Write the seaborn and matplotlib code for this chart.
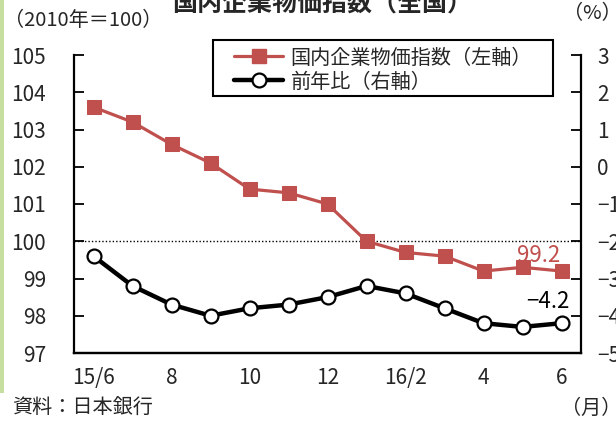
import matplotlib
matplotlib.use("Agg")
import matplotlib.pyplot as plt
import seaborn as sns
import pandas as pd
from matplotlib.lines import Line2D
from matplotlib.patches import Rectangle

months = ["15/6", "7", "8", "9", "10", "11", "12", "16/1", "2", "3", "4", "5", "6"]
index_vals = [103.6, 103.2, 102.6, 102.1, 101.4, 101.3, 101.0, 100.0, 99.7, 99.6, 99.2, 99.3, 99.2]
yoy_vals = [-2.4, -3.2, -3.7, -4.0, -3.8, -3.7, -3.5, -3.2, -3.4, -3.8, -4.2, -4.3, -4.2]
shown_xlabels = {0: "15/6", 2: "8", 4: "10", 6: "12", 8: "16/2", 10: "4", 12: "6"}
left_ticks = [97, 98, 99, 100, 101, 102, 103, 104, 105]
right_ticks = [-5, -4, -3, -2, -1, 0, 1, 2, 3]
series_names = ["国内企業物価指数（左軸）", "前年比（右軸）"]

sns.set_theme(style="white")
plt.rcParams["font.family"] = ["Noto Sans CJK JP", "DejaVu Sans"]

RED = "#c0504d"
FS = 14.5

df = pd.DataFrame({"pos": range(len(months)), "month": months,
                   "index": index_vals, "yoy": yoy_vals})

fig = plt.figure(figsize=(6.16, 4.24), dpi=100)
ax = fig.add_axes([74 / 616, 1 - 353 / 424, (581 - 74) / 616, (353 - 55) / 424])
ax2 = ax.twinx()

ax.axhline(100, color="black", lw=1.0, ls=(0, (1, 1.5)), zorder=1)

sns.lineplot(data=df, x="pos", y="index", ax=ax, color=RED, lw=2.3,
             marker="s", markersize=10.5, markeredgecolor=RED, markerfacecolor=RED,
             zorder=3)
sns.lineplot(data=df, x="pos", y="yoy", ax=ax2, color="black", lw=3.2,
             marker="o", markersize=10, markeredgecolor="black",
             markerfacecolor="white", markeredgewidth=1.6, zorder=3)

ax.set_xlim(-0.5, len(months) - 0.5)
ax.set_ylim(97, 105)
ax2.set_ylim(-5, 3)
ax.set_xlabel("")
ax.set_ylabel("")
ax2.set_ylabel("")

ax.set_yticks(left_ticks)
ax.set_yticklabels([str(t) for t in left_ticks], fontsize=15)
ax2.set_yticks(right_ticks)
ax2.set_yticklabels([str(t).replace("-", "\u2212") for t in right_ticks], fontsize=15)

ax.set_xticks(list(shown_xlabels.keys()))
ax.set_xticklabels(list(shown_xlabels.values()), fontsize=15)
ax.set_xticks([i + 0.5 for i in range(len(months) - 1)], minor=True)

ax.tick_params(axis="x", which="major", length=0, pad=10)
ax.tick_params(axis="x", which="minor", direction="in", length=6, width=1.3, color="black")
ax.tick_params(axis="y", which="major", direction="in", length=7, width=1.3,
               color="black", pad=20, left=True)
ax2.tick_params(axis="y", which="major", direction="in", length=7, width=1.3,
                color="black", pad=11.5, right=True)

for a in (ax, ax2):
    for s in ["left", "right", "bottom"]:
        a.spines[s].set_visible(True)
        a.spines[s].set_color("black")
        a.spines[s].set_linewidth(1.6)
    a.spines["top"].set_visible(False)
ax2.spines["left"].set_visible(False)
ax.spines["right"].set_visible(False)
ax.grid(False)
ax2.grid(False)

ax.annotate("99.2", xy=(12, index_vals[-1]), xytext=(-1, 3), textcoords="offset points",
            ha="right", va="bottom", color=RED, fontsize=16)
ax2.annotate("\u22124.2", xy=(12, yoy_vals[-1]), xytext=(6, 7), textcoords="offset points",
             ha="right", va="bottom", color="black", fontsize=16)

handles = [
    Line2D([], [], color=RED, lw=2.3, marker="s", markersize=10.5,
           markerfacecolor=RED, markeredgecolor=RED),
    Line2D([], [], color="black", lw=3.2, marker="o", markersize=10,
           markerfacecolor="white", markeredgecolor="black", markeredgewidth=1.6),
]
leg = fig.legend(handles, series_names,
                 loc="center left", bbox_to_anchor=(234 / 616, 1 - 70 / 424),
                 fontsize=FS, frameon=False, borderpad=0,
                 labelspacing=0.15, handlelength=2.45, handletextpad=0.35,
                 borderaxespad=0)
fig.patches.append(Rectangle((213 / 616, 1 - 96 / 424), (553 - 213) / 616, 56 / 424,
                             transform=fig.transFigure, facecolor="white",
                             edgecolor="black", linewidth=1.5, zorder=2))
leg.set_zorder(5)

fig.text(322 / 616, 1 - 11 / 424, "国内企業物価指数（全国）", ha="center", va="baseline",
         fontsize=18, fontweight="bold")
fig.text(4 / 616, 1 - 20 / 424, "（2010年＝100）", ha="left", va="center", fontsize=FS)
fig.text(563 / 616, 1 - 14 / 424, "（%）", ha="left", va="center", fontsize=FS)
fig.text(12 / 616, 1 - 408 / 424, "資料：日本銀行", ha="left", va="center", fontsize=FS)
fig.text(621 / 616, 1 - 408 / 424, "（月）", ha="right", va="center", fontsize=FS)

fig.patches.append(Rectangle((0, 1 - 393 / 424), 3.5 / 616, 393 / 424,
                             transform=fig.transFigure, facecolor="#c6dfa0",
                             edgecolor="none", zorder=0))

fig.savefig("out.png", dpi=100, facecolor="white")
